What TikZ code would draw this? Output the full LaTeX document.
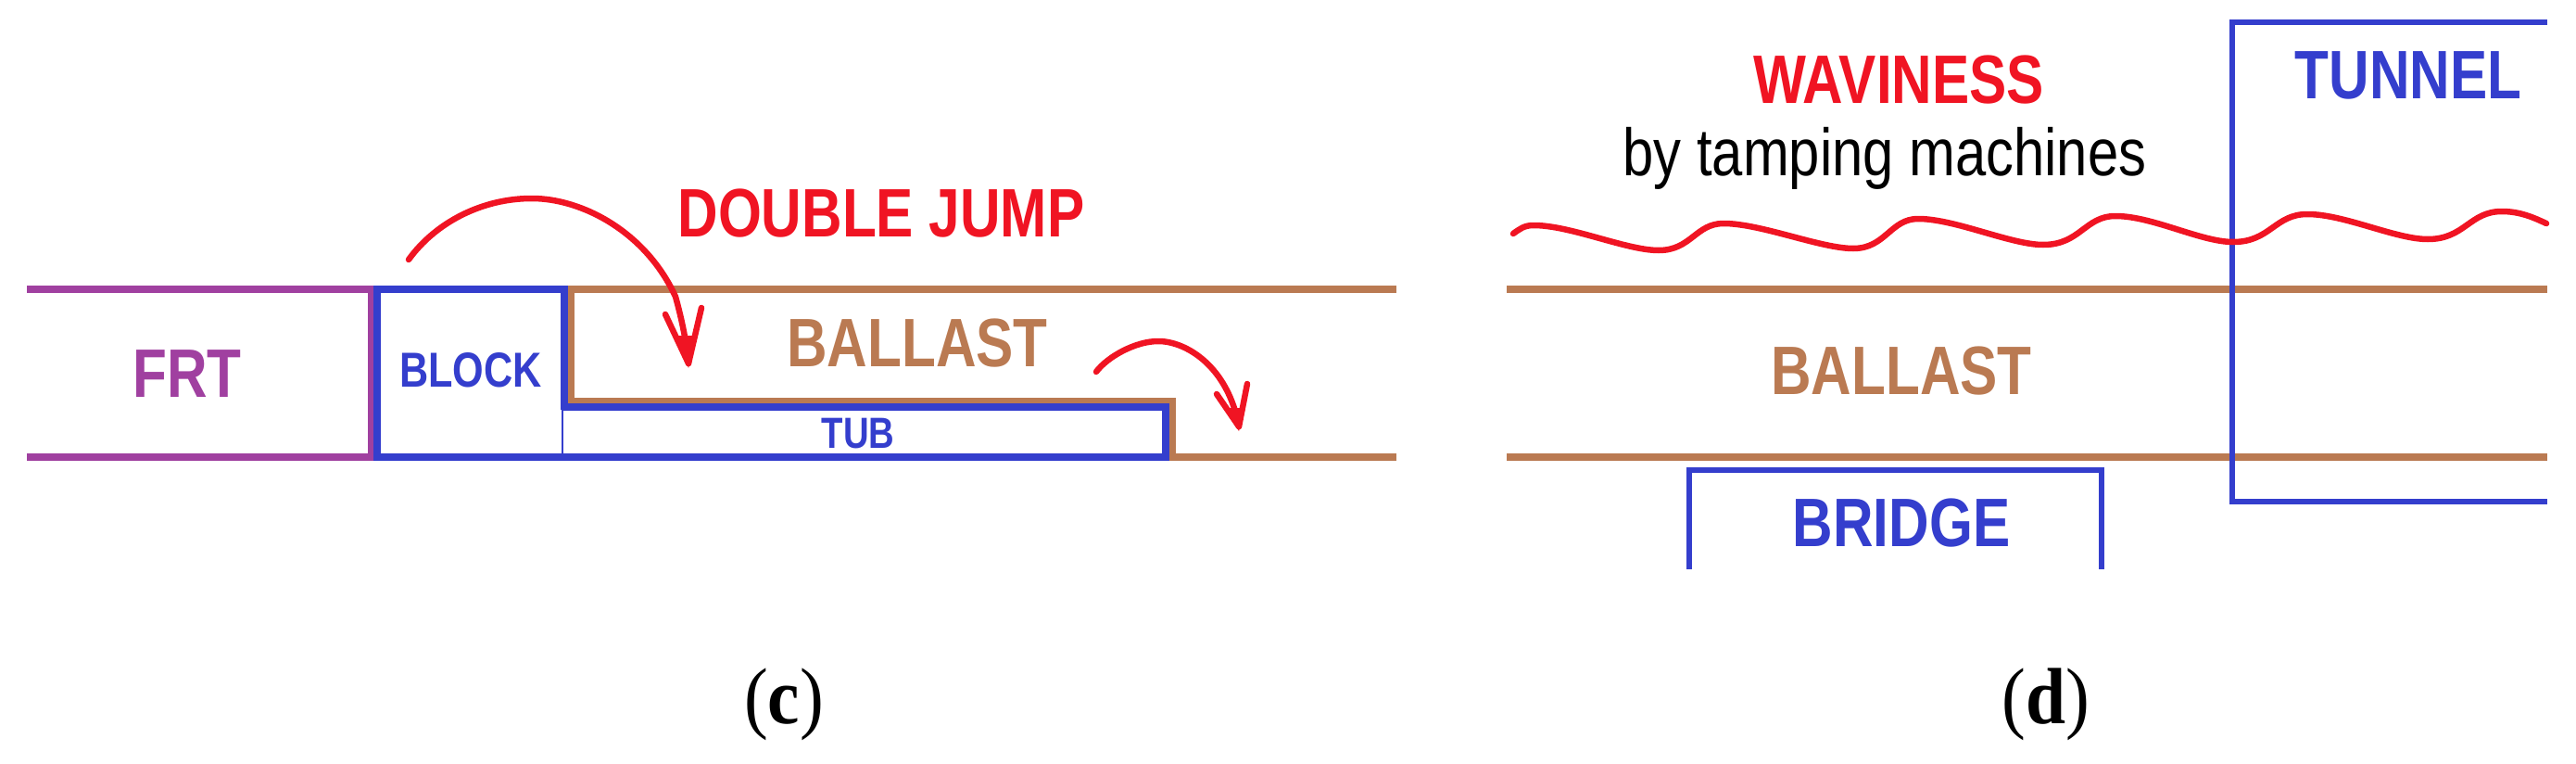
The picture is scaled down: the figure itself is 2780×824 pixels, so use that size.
\documentclass[tikz,border=0pt]{standalone}
\usepackage{fontspec}
\setmainfont[FakeStretch=0.9]{Liberation Serif}
\newfontfamily\narb[FakeStretch=0.815]{Liberation Sans Bold}
\newfontfamily\narr[FakeStretch=0.83]{Liberation Sans}
\definecolor{cbrown}{RGB}{186,122,82}
\definecolor{cblue}{RGB}{52,62,205}
\definecolor{cpurple}{RGB}{160,64,160}
\definecolor{cred}{RGB}{240,20,35}
\tikzset{
  x=1pt,y=-1pt,
  brownline/.style={draw=cbrown,line width=7.2pt,line join=miter},
  blueline/.style={draw=cblue,line width=7.2pt,line join=miter},
  purpleline/.style={draw=cpurple,line width=7.2pt,line join=miter},
  redcurve/.style={draw=cred,line width=6.5pt,line cap=round,line join=round},
  bigtext/.style={anchor=base,inner sep=0pt,font=\narb\fontsize{74}{80}\selectfont},
  captiontext/.style={anchor=base,inner sep=0pt,font=\fontsize{86}{92}\selectfont}
}
\begin{document}
\begin{tikzpicture}
\useasboundingbox (0,0) rectangle (2780,824);
% --- panel c ---
\draw[purpleline] (29,312) -- (401,312) -- (401,493) -- (29,493);
\draw[brownline] (612,312) -- (1507,312);
\draw[brownline] (616,312) -- (616,433) -- (1265,433) -- (1265,493) -- (1507,493);
\draw[blueline] (607,439) -- (1258,439) -- (1258,493) -- (607,493);
\draw[draw=cblue,line width=1.5pt] (607,439) -- (607,493);
\draw[blueline] (609,442) -- (609,312) -- (407,312) -- (407,493) -- (609,493);
\draw[redcurve] (441,280) .. controls (470,240) and (520,214) .. (574,214)
   .. controls (628,214) and (697,250) .. (729,320)
   .. controls (736,345) and (741,370) .. (743,392);
\draw[redcurve] (718,339) -- (743,392) -- (757,332);
\fill[cred] (731,362) -- (752,362) -- (743,397) -- cycle;
\draw[redcurve] (1183,401) .. controls (1195,385) and (1225,368) .. (1250,368)
   .. controls (1280,368) and (1325,395) .. (1337,460);
\draw[redcurve] (1313,425) -- (1337,460) -- (1346,414);
\fill[cred] (1322,440) -- (1343,440) -- (1337,465) -- cycle;
\node[bigtext,text=cred] (jump) at (951,255) {DOUBLE JUMP};
\node[bigtext,text=cpurple] (frt) at (202,428) {FRT};
\node[bigtext,text=cblue,font=\narb\fontsize{53}{60}\selectfont] (block) at (508,417) {BLOCK};
\node[bigtext,text=cbrown] (ballastc) at (990,395) {BALLAST};
\node[bigtext,text=cblue,font=\narb\fontsize{47}{52}\selectfont] (tub) at (926,483) {TUB};
\node[captiontext] (capc) at (846,780) {(\textbf{c})};
% --- panel d ---
\draw[brownline] (1626,312) -- (2749,312);
\draw[brownline] (1626,493) -- (2749,493);
\draw[blueline,line width=6.5pt] (2749,24) -- (2409,24) -- (2409,541) -- (2749,541);
\draw[blueline,line width=6.5pt] (1823,614) -- (1823,507) -- (2268,507) -- (2268,614);
\draw[redcurve] (1633,252) .. controls (1640,247) and (1645,243) .. (1655,243)
  .. controls (1695,243) and (1755,270) .. (1790,270)
  .. controls (1825,270) and (1830,241) .. (1860,241)
  .. controls (1900,241) and (1965,268) .. (2000,268)
  .. controls (2035,268) and (2040,236) .. (2070,236)
  .. controls (2110,236) and (2170,264) .. (2205,264)
  .. controls (2245,264) and (2250,233) .. (2283,233)
  .. controls (2323,233) and (2375,261) .. (2410,261)
  .. controls (2450,261) and (2455,231) .. (2490,231)
  .. controls (2530,231) and (2585,258) .. (2620,258)
  .. controls (2660,258) and (2665,228) .. (2700,228)
  .. controls (2720,228) and (2735,235) .. (2748,241);
\node[bigtext,text=cred] (wav) at (2049,112) {WAVINESS};
\node[anchor=base,inner sep=0pt,font=\narr\fontsize{72}{78}\selectfont] (tamp) at (2034,189) {by tamping machines};
\node[bigtext,text=cblue] (tunnel) at (2599,107) {TUNNEL};
\node[bigtext,text=cbrown] (ballastd) at (2052,425) {BALLAST};
\node[bigtext,text=cblue] (bridge) at (2052,589) {BRIDGE};
\node[captiontext] (capd) at (2208,780) {(\textbf{d})};
\end{tikzpicture}
\end{document}
